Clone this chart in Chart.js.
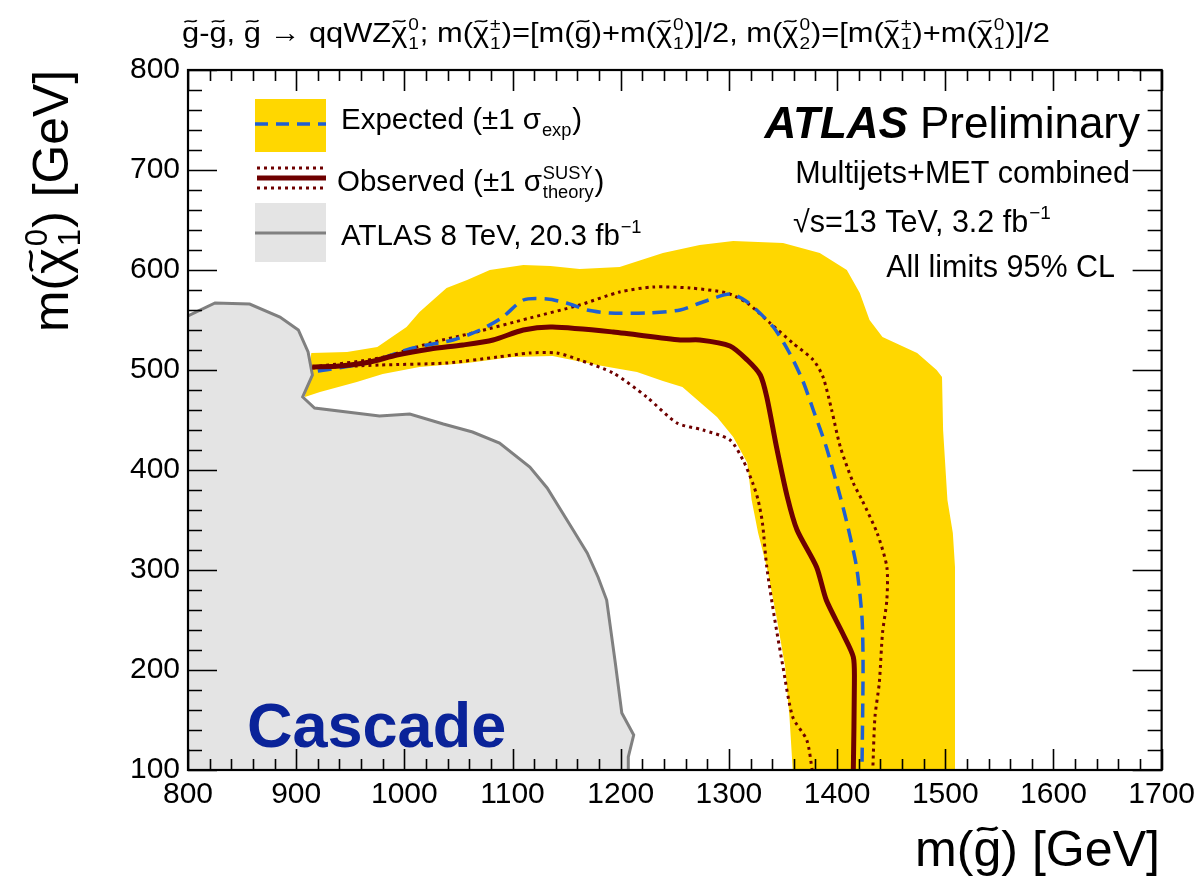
<!DOCTYPE html>
<html>
<head>
<meta charset="utf-8">
<script src="https://cdn.jsdelivr.net/npm/chart.js@4.4.1/dist/chart.umd.min.js"></script>
<style>
  html, body { margin: 0; padding: 0; background: #fff; }
  #wrap { width: 1202px; height: 881px; position: relative; }
</style>
</head>
<body>
<div id="wrap"><canvas id="limitPlot"></canvas></div>
<script>
// axis ticks
const xTicks = [800, 900, 1000, 1100, 1200, 1300, 1400, 1500, 1600, 1700];
const yTicks = [100, 200, 300, 400, 500, 600, 700, 800];

// expected +-1 sigma band (closed contour)
const bandX = [908, 914, 947, 975, 1002, 1014, 1039, 1058, 1079, 1110, 1135, 1162, 1199, 1239, 1273, 1304, 1350, 1384, 1409, 1421, 1430, 1442, 1474, 1492, 1497, 1498, 1502, 1507, 1509, 1509,
  1359, 1356, 1352, 1344, 1335, 1327, 1321, 1317, 1304, 1289, 1257, 1239, 1215, 1178, 1137, 1100, 1058, 1014, 980, 956, 922, 908];
const bandY = [473, 517, 518, 523, 543, 558, 582, 590, 600, 605, 604, 601, 603, 617, 625, 629, 627, 617, 600, 577, 550, 533, 517, 500, 493, 440, 370, 337, 303, 100,
  100, 153, 203, 253, 303, 337, 370, 407, 433, 453, 483, 489, 498, 505, 514, 513, 507, 503, 496, 488, 478, 473];

// expected limit
const expX = [920, 965, 1008, 1045, 1070, 1091, 1110, 1132, 1150, 1169, 1190, 1224, 1255, 1276, 1301, 1317, 1341, 1356, 1368, 1378, 1390, 1403, 1410, 1418, 1423, 1424, 1423];
const expY = [499, 507, 522, 530, 540, 553, 570, 571, 567, 560, 557, 557, 560, 568, 576, 568, 543, 517, 490, 460, 423, 373, 343, 303, 253, 203, 100];

// observed limit
const obsX = [915, 940, 968, 993, 1024, 1054, 1082, 1110, 1137, 1193, 1255, 1273, 1301, 1317, 1329, 1335, 1344, 1354, 1363, 1381, 1390, 1405, 1415, 1416, 1415];
const obsY = [503, 504, 508, 515, 521, 525, 530, 540, 543, 538, 530, 530, 524, 510, 495, 473, 423, 373, 340, 303, 270, 237, 213, 187, 100];

// observed +1 sigma theory
const obsUpX = [915, 977, 1024, 1063, 1116, 1162, 1199, 1230, 1264, 1298, 1317, 1338, 1359, 1378, 1387, 1395, 1403, 1415, 1423, 1437, 1446, 1446, 1442, 1439, 1435, 1433];
const obsUpY = [503, 512, 527, 537, 552, 565, 578, 583, 582, 577, 567, 547, 527, 510, 493, 460, 423, 387, 370, 337, 303, 270, 237, 187, 153, 100];

// observed -1 sigma theory
const obsDnX = [915, 977, 1039, 1086, 1116, 1141, 1162, 1193, 1224, 1252, 1276, 1301, 1313, 1322, 1327, 1331, 1335, 1342, 1350, 1359, 1372, 1377];
const obsDnY = [502, 505, 507, 513, 517, 517, 510, 497, 473, 447, 440, 430, 410, 387, 370, 347, 303, 253, 203, 153, 130, 100];

// ATLAS 8 TeV excluded region outline
const run1X = [800, 825, 857, 885, 902, 911, 915, 906, 917, 977, 1005, 1036, 1063, 1088, 1116, 1132, 1156, 1169, 1179, 1187, 1195, 1201, 1212, 1207, 1207];
const run1Y = [554, 567, 566, 553, 540, 518, 495, 473, 462, 454, 456, 446, 438, 427, 403, 382, 340, 317, 293, 270, 207, 157, 135, 113, 100];

const YELLOW = '#ffd700';
const BLUE = '#1f5fd2';
const DARKRED = '#6e0000';
const GREYFILL = '#e4e4e4';
const GREYLINE = '#808080';
const FONT = "'Liberation Sans', Arial, Helvetica, sans-serif";

function pts(xs, ys) {
  return xs.map((x, i) => ({ x: x, y: ys[i] }));
}

// tiny rich text: ^{sup} _{sub} ~{tilde over}
function parseRich(s) {
  const out = [];
  let buf = '';
  let i = 0;
  while (i < s.length) {
    const c = s[i];
    if ((c === '^' || c === '_' || c === '~') && s[i + 1] === '{') {
      if (buf) { out.push({ k: 't', s: buf }); buf = ''; }
      const end = s.indexOf('}', i);
      out.push({ k: c, s: s.slice(i + 2, end) });
      i = end + 1;
    } else {
      buf += c;
      i++;
    }
  }
  if (buf) out.push({ k: 't', s: buf });
  return out;
}

function layoutRich(ctx, items, size, weight) {
  const ops = [];
  let x = 0;
  const f = sz => weight + ' ' + sz + 'px ' + FONT;
  for (let j = 0; j < items.length; j++) {
    const it = items[j];
    if (it.k === 't' || it.k === '~') {
      ctx.font = f(size);
      const w = ctx.measureText(it.s).width;
      ops.push({ s: it.s, x: x, dy: 0, size: size, w: w, tilde: it.k === '~' });
      x += w;
    } else {
      const sz = size * 0.62;
      ctx.font = f(sz);
      const w = ctx.measureText(it.s).width;
      const dy = it.k === '^' ? -size * 0.42 : size * 0.24;
      ops.push({ s: it.s, x: x + size * 0.03, dy: dy, size: sz, w: w });
      const nx = items[j + 1];
      if (nx && (nx.k === '^' || nx.k === '_') && nx.k !== it.k) {
        const w2 = ctx.measureText(nx.s).width;
        ops.push({ s: nx.s, x: x + size * 0.03, dy: nx.k === '^' ? -size * 0.42 : size * 0.24, size: sz, w: w2 });
        x += Math.max(w, w2) + size * 0.06;
        j++;
      } else {
        x += w + size * 0.06;
      }
    }
  }
  return { ops: ops, width: x };
}

function drawRich(ctx, str, x, y, size, o) {
  o = o || {};
  const weight = o.weight || 'normal';
  const lay = layoutRich(ctx, parseRich(str), size, weight);
  const sx = o.width ? o.width / lay.width : 1;
  const total = lay.width * sx;
  let x0 = x;
  if (o.align === 'right') x0 = x - total;
  else if (o.align === 'center') x0 = x - total / 2;
  ctx.save();
  ctx.translate(x0, y);
  ctx.scale(sx, 1);
  ctx.fillStyle = o.color || '#000';
  ctx.strokeStyle = o.color || '#000';
  ctx.textAlign = 'left';
  ctx.textBaseline = 'alphabetic';
  lay.ops.forEach(op => {
    ctx.font = weight + ' ' + op.size + 'px ' + FONT;
    ctx.fillText(op.s, op.x, op.dy);
    if (op.tilde) {
      const cx = op.x + op.w / 2;
      const ty = -size * 0.74;
      const hw = size * 0.2;
      const a = size * 0.06;
      ctx.lineWidth = size * 0.055;
      ctx.beginPath();
      ctx.moveTo(cx - hw, ty + a * 0.6);
      ctx.bezierCurveTo(cx - hw * 0.5, ty - a * 1.6, cx + hw * 0.5, ty + a * 1.6, cx + hw, ty - a * 0.6);
      ctx.stroke();
    }
  });
  ctx.restore();
  return total;
}

const decorations = {
  id: 'decorations',
  afterDatasetsDraw(chart) {
    const { ctx, chartArea: a, scales } = chart;
    const xs = scales.x, ys = scales.y;
    ctx.save();
    ctx.strokeStyle = '#000';
    ctx.lineWidth = 1.6;
    ctx.beginPath();
    for (let i = 0; i < xTicks.length; i++) {
      for (let k = 0; k < 5; k++) {
        const v = xTicks[i] + k * 20;
        if (v > xTicks[xTicks.length - 1]) break;
        const px = Math.round(xs.getPixelForValue(v)) + 0.5;
        const len = k === 0 ? 21 : 11;
        ctx.moveTo(px, a.bottom); ctx.lineTo(px, a.bottom - len);
        ctx.moveTo(px, a.top); ctx.lineTo(px, a.top + len);
      }
    }
    for (let i = 0; i < yTicks.length; i++) {
      for (let k = 0; k < 5; k++) {
        const v = yTicks[i] + k * 20;
        if (v > yTicks[yTicks.length - 1]) break;
        const py = Math.round(ys.getPixelForValue(v)) + 0.5;
        const len = k === 0 ? 29 : 14;
        ctx.moveTo(a.left, py); ctx.lineTo(a.left + len, py);
        ctx.moveTo(a.right, py); ctx.lineTo(a.right - len, py);
      }
    }
    ctx.stroke();
    ctx.lineWidth = 2.2;
    ctx.strokeRect(a.left, a.top, a.right - a.left, a.bottom - a.top);
    ctx.restore();
  },
  afterDraw(chart) {
    const ctx = chart.ctx;
    ctx.save();

    // title above the frame
    drawRich(ctx, '~{g}-~{g}, ~{g} \u2192 qqWZ~{\u03c7}^{0}_{1}; m(~{\u03c7}^{\u00b1}_{1})=[m(~{g})+m(~{\u03c7}^{0}_{1})]/2, m(~{\u03c7}^{0}_{2})=[m(~{\u03c7}^{\u00b1}_{1})+m(~{\u03c7}^{0}_{1})]/2',
      182, 42, 28, { width: 868 });

    // axis titles
    drawRich(ctx, 'm(~{g}) [GeV]', 1160, 866, 50, { align: 'right', width: 245 });
    ctx.save();
    ctx.translate(68, 70);
    ctx.rotate(-Math.PI / 2);
    drawRich(ctx, 'm(~{\u03c7}^{0}_{1}) [GeV]', 0, 0, 50, { align: 'right', width: 262 });
    ctx.restore();

    // legend
    ctx.fillStyle = YELLOW;
    ctx.fillRect(255, 99, 71, 53);
    ctx.strokeStyle = BLUE;
    ctx.lineWidth = 3.5;
    ctx.setLineDash([13, 8]);
    ctx.beginPath(); ctx.moveTo(255, 124); ctx.lineTo(326, 124); ctx.stroke();
    ctx.strokeStyle = DARKRED;
    ctx.lineWidth = 3;
    ctx.setLineDash([3, 4]);
    ctx.beginPath();
    ctx.moveTo(257, 168); ctx.lineTo(326, 168);
    ctx.moveTo(257, 188); ctx.lineTo(326, 188);
    ctx.stroke();
    ctx.setLineDash([]);
    ctx.lineWidth = 5;
    ctx.beginPath(); ctx.moveTo(257, 178); ctx.lineTo(326, 178); ctx.stroke();
    ctx.fillStyle = GREYFILL;
    ctx.fillRect(255, 203, 71, 59);
    ctx.strokeStyle = GREYLINE;
    ctx.lineWidth = 3;
    ctx.beginPath(); ctx.moveTo(255, 233); ctx.lineTo(326, 233); ctx.stroke();

    drawRich(ctx, 'Expected (\u00b11 \u03c3_{exp})', 341, 129, 29.5);
    drawRich(ctx, 'Observed (\u00b11 \u03c3^{SUSY}_{theory})', 337, 191, 29.5);
    drawRich(ctx, 'ATLAS 8 TeV, 20.3 fb^{\u22121}', 341, 245, 29.5);

    // ATLAS label
    const wPre = drawRich(ctx, 'Preliminary', 1140, 138, 44, { align: 'right' });
    drawRich(ctx, 'ATLAS', 1140 - wPre - 12, 138, 44, { align: 'right', weight: 'italic bold' });
    drawRich(ctx, 'Multijets+MET combined', 1130, 183, 30.5, { align: 'right' });
    drawRich(ctx, '\u221as=13 TeV, 3.2 fb^{\u22121}', 793, 232, 30.5);
    drawRich(ctx, 'All limits 95% CL', 1115, 277, 30.5, { align: 'right' });

    drawRich(ctx, 'Cascade', 247, 747, 63, { weight: 'bold', color: '#0a2399' });
    ctx.restore();
  }
};

const ctx = document.getElementById('limitPlot').getContext('2d');
new Chart(ctx, {
  type: 'line',
  data: {
    datasets: [
      { data: pts(obsX, obsY), borderColor: DARKRED, borderWidth: 5, fill: false, tension: 0.25, order: 0 },
      { data: pts(expX, expY), borderColor: BLUE, borderWidth: 3.5, borderDash: [14, 8], fill: false, tension: 0.25, order: 1 },
      { data: pts(obsUpX, obsUpY), borderColor: DARKRED, borderWidth: 3, borderDash: [3, 4], fill: false, tension: 0.25, order: 2 },
      { data: pts(obsDnX, obsDnY), borderColor: DARKRED, borderWidth: 3, borderDash: [3, 4], fill: false, tension: 0.25, order: 3 },
      { data: pts(run1X, run1Y), borderColor: GREYLINE, borderWidth: 3, fill: false, tension: 0, order: 4 },
      { data: pts(run1X.concat([800, 800]), run1Y.concat([100, 554])), borderWidth: 0, borderColor: 'rgba(0,0,0,0)',
        backgroundColor: GREYFILL, fill: 'shape', tension: 0, order: 5 },
      { data: pts(bandX, bandY), borderWidth: 0, borderColor: 'rgba(0,0,0,0)',
        backgroundColor: YELLOW, fill: 'shape', tension: 0, order: 6 }
    ]
  },
  options: {
    responsive: true,
    maintainAspectRatio: false,
    animation: false,
    devicePixelRatio: 1,
    layout: { padding: { top: 70, right: 40, left: 0, bottom: 0 } },
    elements: { point: { radius: 0, hoverRadius: 0 } },
    plugins: {
      legend: { display: false },
      tooltip: { enabled: false },
      title: { display: false }
    },
    scales: {
      x: {
        type: 'linear',
        min: 800,
        max: 1700,
        afterBuildTicks: s => { s.ticks = xTicks.map(v => ({ value: v })); },
        afterFit: s => { s.height = 111; },
        grid: { display: false, drawTicks: false },
        border: { display: false },
        ticks: { font: { family: FONT, size: 30 }, color: '#000', padding: 7, maxRotation: 0, autoSkip: false,
          callback: v => String(v) }
      },
      y: {
        type: 'linear',
        min: 100,
        max: 800,
        afterBuildTicks: s => { s.ticks = yTicks.map(v => ({ value: v })); },
        afterFit: s => { s.width = 188; },
        grid: { display: false, drawTicks: false },
        border: { display: false },
        ticks: { font: { family: FONT, size: 30 }, color: '#000', padding: 8, autoSkip: false,
          callback: v => String(v) }
      }
    }
  },
  plugins: [decorations]
});
</script>
</body>
</html>
